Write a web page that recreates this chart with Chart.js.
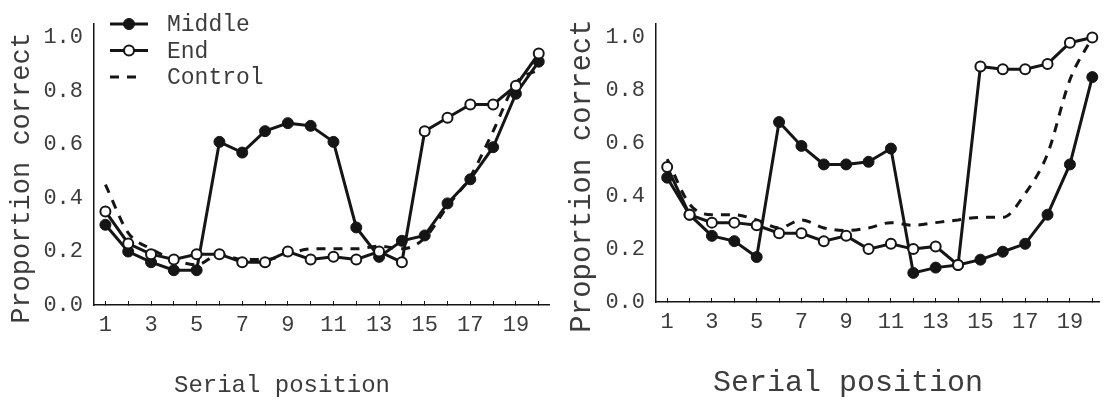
<!DOCTYPE html>
<html>
<head>
<meta charset="utf-8">
<script src="https://cdn.jsdelivr.net/npm/chart.js@4.4.0/dist/chart.umd.min.js"></script>
<style>
  html, body { margin: 0; padding: 0; background: #fff; }
  #wrap { position: relative; width: 1106px; height: 404px; overflow: hidden; }
  .panel { position: absolute; top: 0; height: 404px; }
  #left { left: 0; width: 556px; }
  #right { left: 553px; width: 553px; }
</style>
</head>
<body>
<div id="wrap">
  <div class="panel" id="left"><canvas id="chartLeft" width="556" height="404"></canvas></div>
  <div class="panel" id="right"><canvas id="chartRight" width="553" height="404"></canvas></div>
</div>
<script>
// serial positions 1..20, only odd ones get a label
const positions = [1, 2, 3, 4, 5, 6, 7, 8, 9, 10, 11, 12, 13, 14, 15, 16, 17, 18, 19, 20];
const labelledPositions = [1, 3, 5, 7, 9, 11, 13, 15, 17, 19];
const seriesNames = ['Middle', 'End', 'Control'];

// left panel
const leftMiddle  = [0.30, 0.20, 0.16, 0.13, 0.13, 0.61, 0.57, 0.65, 0.68, 0.67, 0.61, 0.29, 0.18, 0.24, 0.26, 0.38, 0.47, 0.59, 0.79, 0.91];
const leftEnd     = [0.35, 0.23, 0.19, 0.17, 0.19, 0.19, 0.16, 0.16, 0.20, 0.17, 0.18, 0.17, 0.20, 0.16, 0.65, 0.70, 0.75, 0.75, 0.82, 0.94];
const leftControl = [0.45, 0.27, 0.21, 0.17, 0.15, 0.19, 0.17, 0.17, 0.19, 0.21, 0.21, 0.21, 0.22, 0.21, 0.25, 0.37, 0.48, 0.65, 0.83, 0.88];

// right panel
const rightMiddle  = [0.47, 0.33, 0.25, 0.23, 0.17, 0.68, 0.59, 0.52, 0.52, 0.53, 0.58, 0.11, 0.13, 0.14, 0.16, 0.19, 0.22, 0.33, 0.52, 0.85];
const rightEnd     = [0.51, 0.33, 0.30, 0.30, 0.29, 0.26, 0.26, 0.23, 0.25, 0.20, 0.22, 0.20, 0.21, 0.14, 0.89, 0.88, 0.88, 0.90, 0.98, 1.00];
const rightControl = [0.54, 0.37, 0.33, 0.33, 0.31, 0.28, 0.31, 0.28, 0.27, 0.28, 0.30, 0.29, 0.30, 0.31, 0.32, 0.32, 0.41, 0.56, 0.84, 1.00];

const yTitle = 'Proportion correct';
const xTitle = 'Serial position';

const FONT = "'Liberation Mono', 'Courier New', monospace";
const INK = '#151515';
const TEXT = '#3c3c3c';

function toPoints(values) {
    return positions.map((p, i) => ({ x: p, y: values[i] }));
}

// titles + legend drawn inside the canvas
const figureText = {
    id: 'figureText',
    afterDraw(chart, args, opts) {
        const ctx = chart.ctx;
        ctx.save();
        ctx.fillStyle = TEXT;
        ctx.textBaseline = 'middle';

        if (opts.xTitle) {
            ctx.font = opts.xTitle.size + 'px ' + FONT;
            ctx.textAlign = 'center';
            ctx.fillText(opts.xTitle.text, opts.xTitle.x, opts.xTitle.y);
        }
        if (opts.yTitle) {
            ctx.save();
            ctx.translate(opts.yTitle.x, opts.yTitle.y);
            ctx.rotate(-Math.PI / 2);
            ctx.font = opts.yTitle.size + 'px ' + FONT;
            ctx.textAlign = 'center';
            ctx.fillText(opts.yTitle.text, 0, 0);
            ctx.restore();
        }

        const lg = opts.legend;
        if (lg) {
            chart.data.datasets.forEach((ds, i) => {
                const y = lg.y + i * lg.rowGap;
                const w = ds.borderDash && ds.borderDash.length ? lg.dashWidth : lg.sampleWidth;
                ctx.save();
                ctx.strokeStyle = ds.borderColor;
                ctx.lineWidth = ds.borderWidth;
                ctx.setLineDash(ds.borderDash || []);
                ctx.beginPath();
                ctx.moveTo(lg.x, y);
                ctx.lineTo(lg.x + w, y);
                ctx.stroke();
                ctx.setLineDash([]);
                if (ds.pointRadius > 0) {
                    ctx.beginPath();
                    ctx.arc(lg.x + lg.sampleWidth / 2, y, ds.pointRadius, 0, Math.PI * 2);
                    ctx.fillStyle = ds.pointBackgroundColor;
                    ctx.fill();
                    ctx.lineWidth = ds.pointBorderWidth;
                    ctx.strokeStyle = ds.pointBorderColor;
                    ctx.stroke();
                }
                ctx.restore();
                ctx.font = lg.size + 'px ' + FONT;
                ctx.textAlign = 'left';
                ctx.fillText(ds.label, lg.textX, y + 1);
            });
        }
        ctx.restore();
    }
};

function makeChart(canvasId, middle, end, control, layout) {
    const ctx = document.getElementById(canvasId);
    return new Chart(ctx, {
        type: 'line',
        data: {
            datasets: [
                {
                    label: seriesNames[0],
                    data: toPoints(middle),
                    borderColor: INK,
                    borderWidth: 3,
                    pointRadius: 5.5,
                    pointBackgroundColor: INK,
                    pointBorderColor: INK,
                    pointBorderWidth: 1,
                    order: 2
                },
                {
                    label: seriesNames[1],
                    data: toPoints(end),
                    borderColor: INK,
                    borderWidth: 3,
                    pointRadius: 5,
                    pointBackgroundColor: '#fff',
                    pointBorderColor: INK,
                    pointBorderWidth: 2,
                    order: 1
                },
                {
                    label: seriesNames[2],
                    data: toPoints(control),
                    borderColor: INK,
                    borderWidth: 3,
                    borderDash: [9, 8],
                    pointRadius: 0,
                    cubicInterpolationMode: 'monotone',
                    order: 3
                }
            ]
        },
        options: {
            responsive: false,
            animation: false,
            devicePixelRatio: 1,
            layout: { padding: layout.padding },
            plugins: {
                legend: { display: false },
                tooltip: { enabled: false },
                figureText: {
                    xTitle: { text: xTitle, x: layout.xTitle[0], y: layout.xTitle[1], size: layout.xTitle[2] },
                    yTitle: { text: yTitle, x: layout.yTitle[0], y: layout.yTitle[1], size: layout.yTitle[2] },
                    legend: layout.legend
                }
            },
            scales: {
                x: {
                    type: 'linear',
                    min: 0.5,
                    max: layout.xMax,
                    afterFit: s => { s.height = layout.xHeight; },
                    border: { display: true, color: INK, width: 1.5 },
                    grid: { display: true, drawOnChartArea: false, drawTicks: true, tickLength: -4, color: INK, lineWidth: 1 },
                    ticks: {
                        stepSize: 1,
                        includeBounds: false,
                        autoSkip: false,
                        maxRotation: 0,
                        padding: 11,
                        color: TEXT,
                        font: { family: FONT, size: 22 },
                        callback: v => labelledPositions.includes(v) ? String(v) : ''
                    }
                },
                y: {
                    min: 0,
                    max: 1.05,
                    afterFit: s => { s.width = layout.yWidth; },
                    border: { display: true, color: INK, width: 1.5 },
                    grid: { display: true, drawOnChartArea: false, drawTicks: false },
                    ticks: {
                        stepSize: 0.2,
                        includeBounds: false,
                        padding: 11,
                        color: TEXT,
                        font: { family: FONT, size: 22 },
                        callback: v => v.toFixed(1)
                    }
                }
            }
        },
        plugins: [figureText]
    });
}

makeChart('chartLeft', leftMiddle, leftEnd, leftControl, {
    padding: { top: 7, right: 3, left: 0, bottom: 0 },
    xMax: 20.45,
    xHeight: 99,
    yWidth: 94,
    xTitle: [282, 386, 24],
    yTitle: [22, 178, 27],
    legend: { x: 110, y: 24, rowGap: 26.5, sampleWidth: 38, dashWidth: 28, textX: 167, size: 23 }
});

makeChart('chartRight', rightMiddle, rightEnd, rightControl, {
    padding: { top: 6, right: 0, left: 0, bottom: 0 },
    xMax: 20.3,
    xHeight: 102,
    yWidth: 103,
    xTitle: [295, 383, 30],
    yTitle: [29, 176, 29],
    legend: null
});
</script>
</body>
</html>
